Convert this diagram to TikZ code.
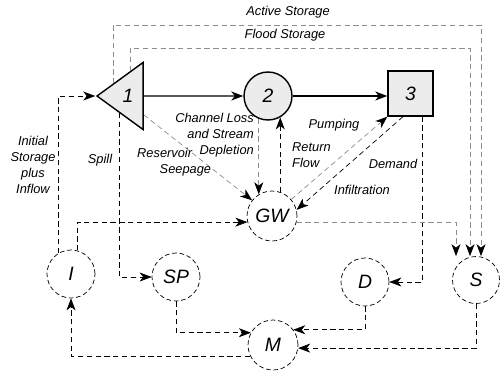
\documentclass[tikz,border=0pt]{standalone}
\usepackage{fontspec}
\setmainfont{Liberation Sans}
\usetikzlibrary{arrows.meta,shapes.geometric}

\begin{document}
\begin{tikzpicture}[
  font=\fontsize{7.3}{9}\selectfont\itshape,
  res/.style={draw, thick, fill=gray!15, inner sep=0pt, font=\fontsize{11}{12}\selectfont\itshape},
  pool/.style={circle, draw, dash pattern=on 2.6pt off 1.6pt, thin, minimum size=0.96cm, inner sep=0pt, font=\fontsize{11}{12}\selectfont\itshape},
  flow/.style={-{Stealth[length=2.4mm, width=1.8mm, inset=0.7mm]}, thick},
  dflow/.style={-{Stealth[length=2.4mm, width=1.8mm, inset=0.7mm, color=black]}, dash pattern=on 3pt off 2pt, thin},
  gflow/.style={dflow, draw=black!45}
]
  \useasboundingbox (0,0) rectangle (10,7.44);

  % main river chain
  \node[res, isosceles triangle, shape border rotate=180, isosceles triangle stretches,
        minimum width=1.34cm, minimum height=0.92cm] (t1) at (2.56,5.52) {1};
  \node[res, circle, minimum size=0.96cm] (n2) at (5.36,5.52) {2};
  \node[res, minimum size=0.9cm] (n3) at (8.21,5.57) {3};

  \draw[flow] (t1) -- (n2);
  \draw[flow] (n2) -- (n2 -| n3.west);

  % pools
  \node[pool, minimum size=1cm] (gw) at (5.44,3.12) {GW};
  \node[pool] (i)  at (1.42,1.96) {I};
  \node[pool] (sp) at (3.52,1.90) {SP};
  \node[pool] (d)  at (7.30,1.80) {D};
  \node[pool, minimum size=0.94cm] (s) at (9.52,1.84) {S};
  \node[pool, minimum size=1cm] (m) at (5.46,0.54) {M};

  % storage lines
  \coordinate (act) at (9.62,6.94);
  \coordinate (fld) at (9.40,6.47);
  \draw[gflow] (t1.140) |- (act) -- (act |- s.north);
  \draw[gflow] (t1.85) |- (fld) -- (fld |- s.north);

  % links
  \draw[dflow] (i.120) |- (t1.apex);
  \draw[dflow] (i.75) |- (gw.194);
  \draw[dflow] (t1.242) |- (sp.west);
  \draw[gflow] (t1.-50) -- (gw);
  \draw[gflow] (n2.248) -- (n2.248 |- gw.121);
  \draw[dflow] (gw.71) -- (gw.71 |- n2.300);
  \draw[gflow] (gw) -- (n3.south west);
  \draw[dflow] (n3.252) -- (gw.14);
  \draw[dflow] (n3.297) |- (d.east);
  \draw[gflow] (gw.-14) -| ([xshift=-0.4cm]s.north);
  \draw[dflow] (sp.south) |- (m.151);
  \draw[dflow] (d.south) |- (m.37);
  \draw[dflow] (s.south) |- (m.-7);
  \draw[dflow] (m.206) -| (i.south);

  % labels
  \node (lact) at (5.76,7.20) {Active Storage};
  \node (lfld) at (5.70,6.74) {Flood Storage};
  \node[align=center] (linit) at (0.66,4.14) {Initial\\Storage\\plus\\Inflow};
  \node (lspill) at (2.0,4.24) {Spill};
  \node[anchor=west, align=left] (lseep) at (2.62,4.20) {Reservoir\\\hspace{0.45cm}Seepage};
  \node[anchor=east, align=right] (lchan) at (5.20,4.74) {Channel Loss\\and Stream\\Depletion};
  \node[anchor=west, align=left] (lret) at (5.72,4.34) {Return\\Flow};
  \node (lpump) at (6.68,4.94) {Pumping};
  \node (ldem) at (7.86,4.16) {Demand};
  \node (linf) at (7.24,3.64) {Infiltration};
\end{tikzpicture}
\end{document}
